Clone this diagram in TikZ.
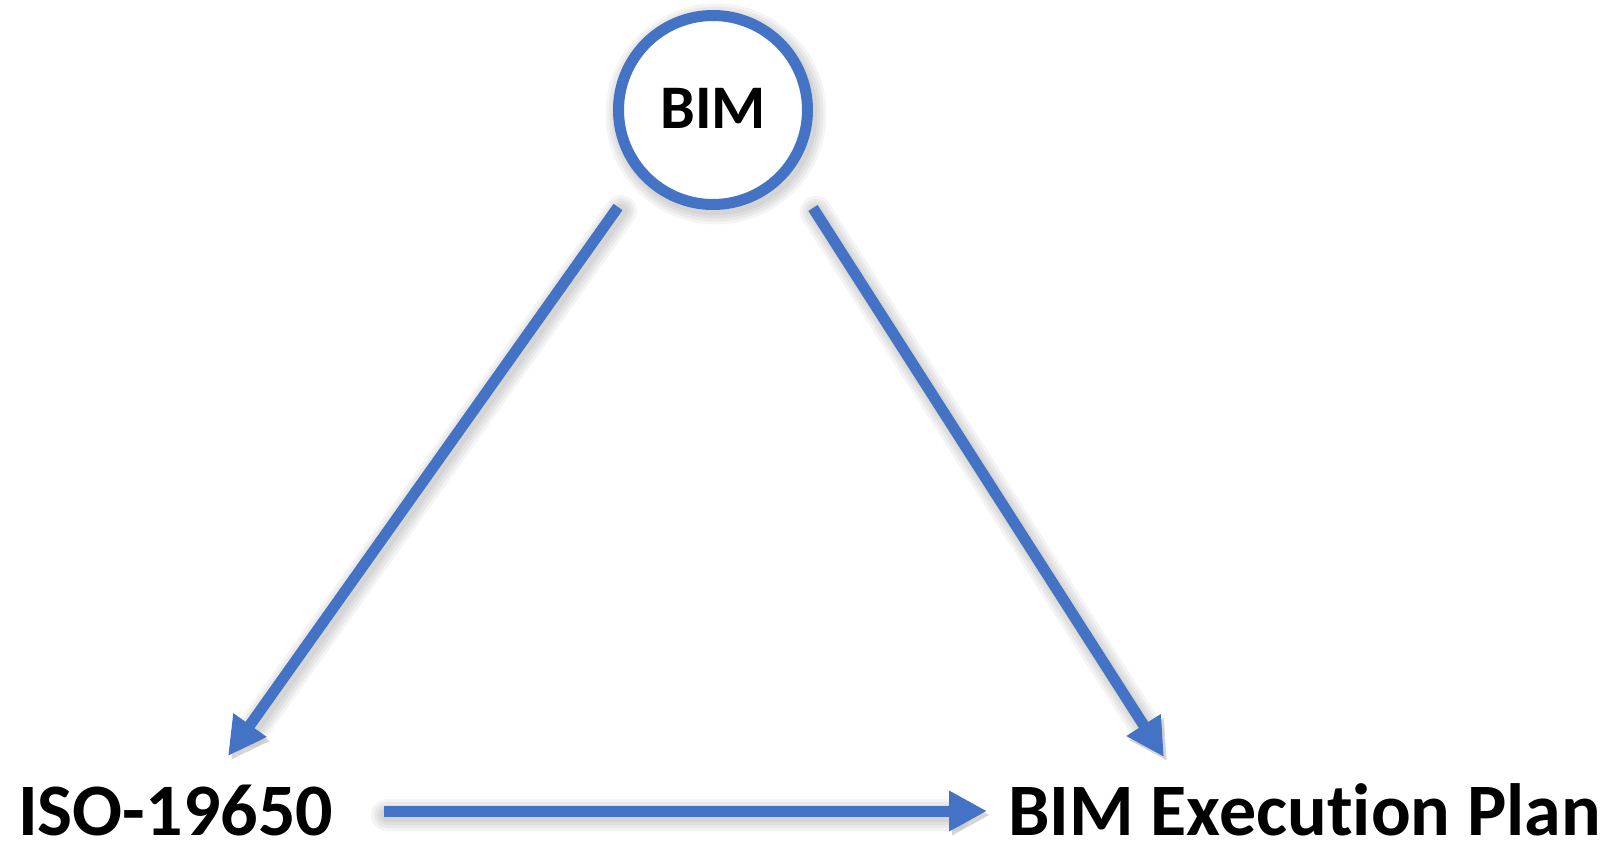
\documentclass[tikz,border=0pt]{standalone}
\usepackage{fontspec}
\setmainfont{Carlito}[Ligatures={NoCommon}]
\usetikzlibrary{arrows.meta}
\definecolor{obl}{HTML}{4472C4}
\tikzset{
  lbl/.style={inner sep=0pt, anchor=base west, text depth=0pt, font=\fontsize{74}{80}\selectfont\bfseries},
  conn/.style={draw=obl, line width=11pt, -{Triangle[length=38pt,width=38pt]}},
  shd/.style={draw=black, line width=#1, opacity=0.045, line cap=round, -{Triangle[length=38pt,width=38pt]}},
}
\begin{document}
\begin{tikzpicture}[x=1pt,y=-1pt]
\useasboundingbox (0,0) rectangle (1617,844);
% nodes
\node[circle, minimum size=189pt, inner sep=0pt] (bim) at (713,110) {};
\node[lbl] (iso) at (18,835) {ISO-19650};
\node[lbl] (bep) at (1008,835) {BIM Execution Plan};
\coordinate (a1s) at (618,207);
\coordinate (a1e) at (228,756);
\coordinate (a2s) at (813,208);
\coordinate (a2e) at (1164,757);
\coordinate (a3s) at (384,811);
\coordinate (a3e) at (987,811);
% shadows
\foreach \w in {32,26,20,14}{
  \draw[draw=black, line width=\w pt, opacity=0.045] ([shift={(3,4)}]bim.center) circle (94.5);
  \draw[shd=\w pt] ([shift={(3,4)}]a1s) -- ([shift={(3,4)}]a1e);
  \draw[shd=\w pt] ([shift={(3,4)}]a2s) -- ([shift={(3,4)}]a2e);
  \draw[shd=\w pt] ([shift={(3,4)}]a3s) -- ([shift={(3,4)}]a3e);
}
% circle
\draw[draw=obl, line width=11pt, fill=white] (bim.center) circle (94.5);
\node[inner sep=0pt, anchor=base, text depth=0pt, font=\fontsize{62}{66}\selectfont\bfseries] (bimtxt) at (713,128) {BIM};
% connectors
\draw[conn] (a1s) -- (a1e);
\draw[conn] (a2s) -- (a2e);
\draw[conn] (a3s) -- (a3e);
\end{tikzpicture}
\end{document}
